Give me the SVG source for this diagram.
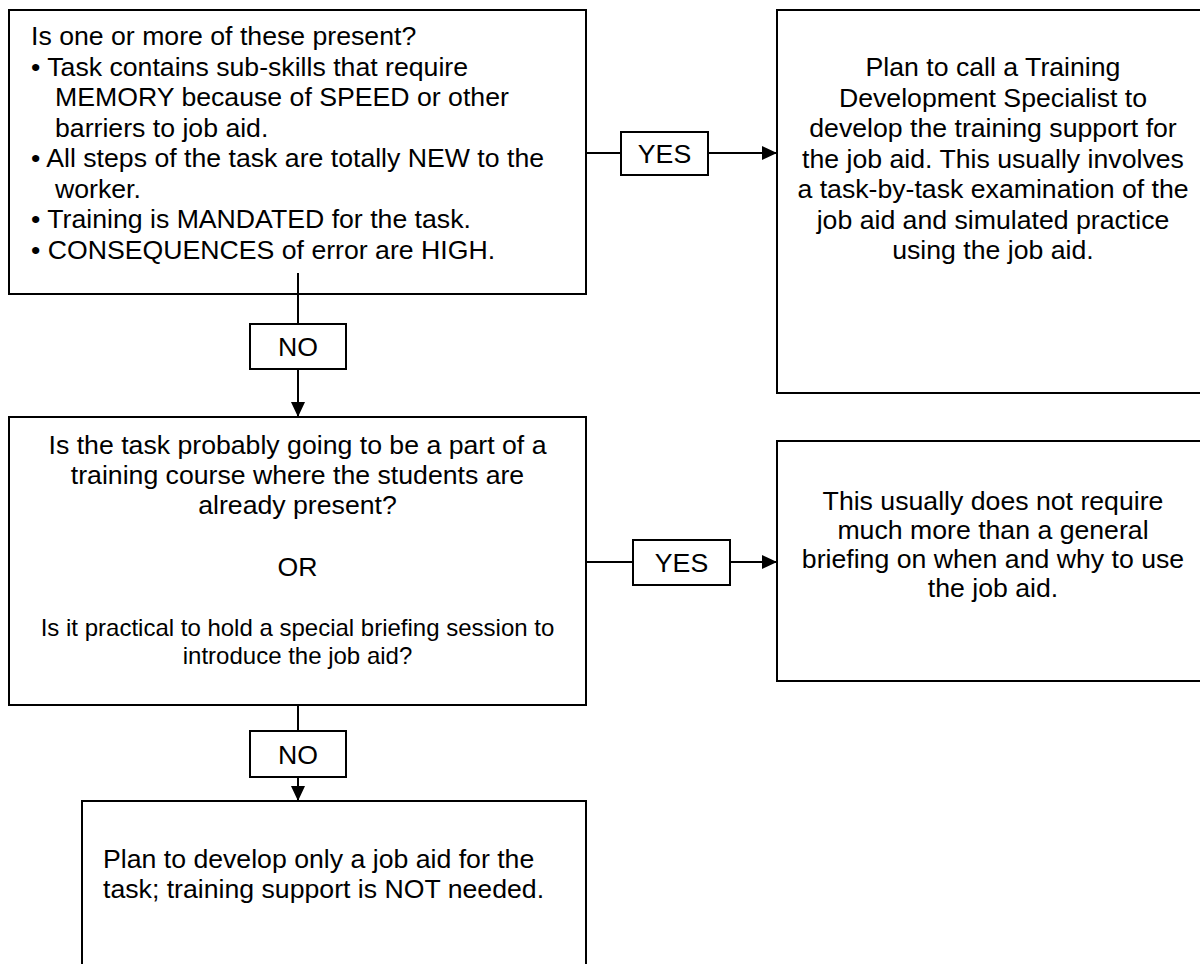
<svg xmlns="http://www.w3.org/2000/svg" width="1200" height="964" viewBox="0 0 1200 964">
<style>
.box{fill:#fff;stroke:#000;stroke-width:2}
.t{font-family:"Liberation Sans",Arial,sans-serif;font-size:26.67px;fill:#000}
.s{font-size:24px}
.c{text-anchor:middle}
.ln{stroke:#000;stroke-width:2;fill:none}
</style>
<defs>
<marker id="ah" markerUnits="userSpaceOnUse" markerWidth="16" markerHeight="14" refX="15" refY="7" orient="auto">
<path d="M0,0 L15,7 L0,14 Z" fill="#000"/>
</marker>
</defs>
<rect width="1200" height="964" fill="#fff"/>
<g id="q1">
<rect class="box" x="9" y="10" width="577" height="284"/>
<text class="t" x="31" y="45">Is one or more of these present?</text>
<text class="t" x="31" y="75.5">• Task contains sub-skills that require</text>
<text class="t" x="55" y="106">MEMORY because of SPEED or other</text>
<text class="t" x="55" y="136.5">barriers to job aid.</text>
<text class="t" x="31" y="167">• All steps of the task are totally NEW to the</text>
<text class="t" x="55" y="197.5">worker.</text>
<text class="t" x="31" y="228">• Training is MANDATED for the task.</text>
<text class="t" x="31" y="258.5">• CONSEQUENCES of error are HIGH.</text>
</g>
<g id="yes1">
<rect class="box" x="621" y="132" width="87" height="43"/>
<text class="t c" x="664.5" y="163">YES</text>
</g>
<g id="r1">
<rect class="box" x="777" y="10" width="432" height="383"/>
<text class="t c" x="993" y="76">Plan to call a Training</text>
<text class="t c" x="993" y="106.5">Development Specialist to</text>
<text class="t c" x="993" y="137">develop the training support for</text>
<text class="t c" x="993" y="167.5">the job aid. This usually involves</text>
<text class="t c" x="993" y="198">a task-by-task examination of the</text>
<text class="t c" x="993" y="228.5">job aid and simulated practice</text>
<text class="t c" x="993" y="259">using the job aid.</text>
</g>
<g id="no1">
<rect class="box" x="250" y="324" width="96" height="45"/>
<text class="t c" x="298" y="356">NO</text>
</g>
<g id="q2">
<rect class="box" x="9" y="417" width="577" height="288"/>
<text class="t c" x="297.5" y="454">Is the task probably going to be a part of a</text>
<text class="t c" x="297.5" y="484">training course where the students are</text>
<text class="t c" x="297.5" y="514">already present?</text>
<text class="t c" x="297.5" y="576">OR</text>
<text class="t s c" x="297.5" y="636">Is it practical to hold a special briefing session to</text>
<text class="t s c" x="297.5" y="664">introduce the job aid?</text>
</g>
<g id="yes2">
<rect class="box" x="633" y="540" width="97" height="45"/>
<text class="t c" x="681.5" y="572">YES</text>
</g>
<g id="r2">
<rect class="box" x="777" y="441" width="432" height="240"/>
<text class="t c" x="993" y="510">This usually does not require</text>
<text class="t c" x="993" y="539">much more than a general</text>
<text class="t c" x="993" y="568">briefing on when and why to use</text>
<text class="t c" x="993" y="597">the job aid.</text>
</g>
<g id="no2">
<rect class="box" x="250" y="731" width="96" height="46"/>
<text class="t c" x="298" y="764">NO</text>
</g>
<g id="r3">
<rect class="box" x="82" y="801" width="504" height="180"/>
<text class="t" x="103" y="868">Plan to develop only a job aid for the</text>
<text class="t" x="103" y="898">task; training support is NOT needed.</text>
</g>
<g id="connectors">
<line class="ln" x1="586" y1="153" x2="621" y2="153"/>
<line class="ln" x1="708" y1="153" x2="777" y2="153" marker-end="url(#ah)"/>
<line class="ln" x1="298" y1="273" x2="298" y2="324"/>
<line class="ln" x1="298" y1="369" x2="298" y2="417" marker-end="url(#ah)"/>
<line class="ln" x1="586" y1="562" x2="633" y2="562"/>
<line class="ln" x1="730" y1="562" x2="777" y2="562" marker-end="url(#ah)"/>
<line class="ln" x1="298" y1="705" x2="298" y2="731"/>
<line class="ln" x1="298" y1="777" x2="298" y2="801" marker-end="url(#ah)"/>
</g>
</svg>
